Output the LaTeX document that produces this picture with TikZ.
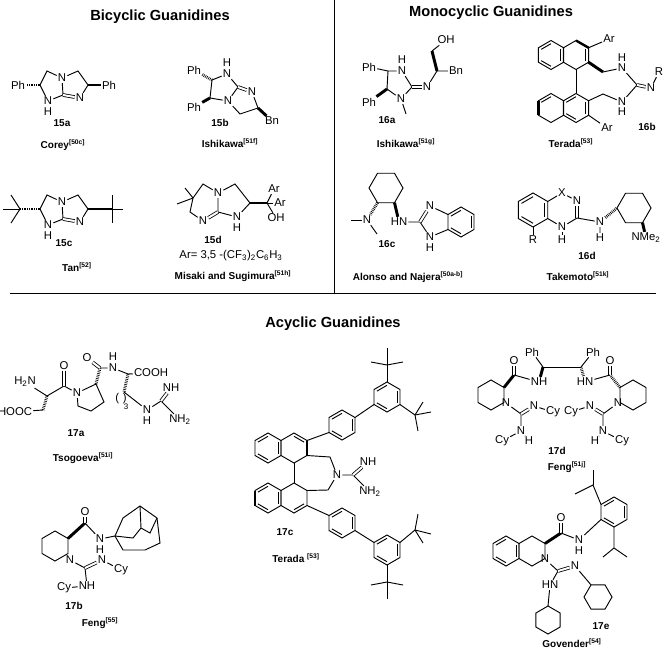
\documentclass[tikz,border=0pt]{standalone}
\usepackage{fontspec}
\setmainfont{Liberation Sans}
\usetikzlibrary{calc}
\tikzset{
  atom/.style={font=\fontsize{8.5}{9}\selectfont, inner sep=0.6pt},
  cpd/.style={font=\fontsize{7.5}{8}\selectfont\bfseries},
  title/.style={font=\fontsize{11}{12}\selectfont\bfseries},
  wedge/.style={line width=2.2pt},
  hash/.style={line width=2.2pt, dash pattern=on 0.5pt off 0.8pt},
  dbl/.style={double, double distance=1.5pt, line width=0.6pt}
}
% hexagon: name, x, y, radius, first angle
\newcommand{\hexring}[5]{%
  \coordinate (#1-c) at (#2,#3);
  \foreach \k in {1,...,6}{\coordinate (#1-\k) at ($(#2,#3)+(#5+60*\k:#4)$);}
  \draw (#1-1)--(#1-2)--(#1-3)--(#1-4)--(#1-5)--(#1-6)--cycle;}
\newcommand{\arom}[1]{%
  \foreach \a/\b in {1/2,3/4,5/6}{\draw ($(#1-c)!0.78!(#1-\a)$) -- ($(#1-c)!0.78!(#1-\b)$);}}
\newcommand{\citeref}[2]{#1\textsuperscript{\fontsize{5}{5}\selectfont[#2]}}
\begin{document}
\begin{tikzpicture}[x=0.75pt, y=-0.75pt, line width=0.7pt]
\useasboundingbox (0,0) rectangle (666,649);
% frame lines
\coordinate (v1) at (334,0);
\coordinate (v2) at (334,293);
\coordinate (h1) at (10,293);
\coordinate (h2) at (656,293);
\draw (v1) -- (v2);
\draw (h1) -- (h2);
\node[title] (tBi) at (160,17) {Bicyclic Guanidines};
\node[title] (tMo) at (491,13) {Monocyclic Guanidines};
\node[title] (tAc) at (333,324) {Acyclic Guanidines};

% 15a
\coordinate (a1) at (40,85); \coordinate (a2) at (47,71);
\node[atom] (aN1) at (62,78) {N};
\coordinate (a3) at (63,95);
\node[atom] (aN3) at (48,101) {N}; \node[atom] (aH) at (48,112) {H};
\coordinate (a4) at (78,71); \coordinate (a5) at (88,85);
\node[atom] (aN2) at (80,98) {N};
\node[atom] (aPh1) at (18,85) {Ph}; \node[atom] (aPh2) at (109,85) {Ph};
\draw (a1)--(a2)--(aN1)--(a3)--(aN3)--(a1);
\draw (aN1)--(a4)--(a5)--(aN2);
\draw[dbl] (a3)--(aN2);
\draw[hash] (a1)--(aPh1); \draw[wedge] (a5)--(aPh2);
\node[cpd] (l15a) at (62,123) {15a};
\node[cpd] (r15a) at (63,145) {\citeref{Corey}{50c}};

% 15b
\node[atom] (bPh1) at (194,70) {Ph}; \node[atom] (bPh2) at (194,107) {Ph};
\coordinate (b1) at (212,80); \coordinate (b2) at (210,98);
\node[atom] (bN1) at (227,74) {N}; \node[atom] (bH) at (227,63) {H};
\coordinate (b3) at (238,87);
\node[atom] (bN2) at (228,101) {N};
\node[atom] (bN3) at (252,92) {N};
\coordinate (b4) at (240,114); \coordinate (b5) at (258,108);
\node[atom] (bBn) at (272,121) {Bn};
\draw (b1)--(bN1)--(b3)--(bN2)--(b2)--(b1);
\draw (bN2)--(b4)--(b5)--(bN3);
\draw[dbl] (b3)--(bN3);
\draw[hash] (b1)--(bPh1); \draw[wedge] (b2)--(bPh2); \draw[wedge] (b5)--(bBn);
\node[cpd] (l15b) at (220,123) {15b};
\node[cpd] (r15b) at (230,143) {\citeref{Ishikawa}{51f}};

% 15c
\coordinate (c1) at (40,209); \coordinate (c2) at (47,195);
\node[atom] (cN1) at (62,202) {N};
\coordinate (c3) at (63,219);
\node[atom] (cN3) at (48,225) {N}; \node[atom] (cH) at (48,236) {H};
\coordinate (c4) at (78,195); \coordinate (c5) at (88,209);
\node[atom] (cN2) at (80,222) {N};
\draw (c1)--(c2)--(cN1)--(c3)--(cN3)--(c1);
\draw (cN1)--(c4)--(c5)--(cN2);
\draw[dbl] (c3)--(cN2);
\coordinate (ct1) at (20,209); \coordinate (ct2) at (112,209);
\draw[hash] (c1)--(ct1); \draw[wedge] (c5)--(ct2);
\foreach \p in {(3,209),(11,195),(11,223)} \draw (ct1)--\p;
\foreach \p in {(123,209),(112,195),(112,223)} \draw (ct2)--\p;
\node[cpd] (l15c) at (64,243) {15c};
\node[cpd] (r15c) at (77,267) {\citeref{Tan}{52}};

% 15d
\coordinate (d1) at (193,198); \coordinate (d2) at (203,184);
\node[atom] (dN1) at (218,193) {N};
\coordinate (d3) at (218,212);
\node[atom] (dN2) at (203,221) {N};
\coordinate (d4) at (190,212);
\coordinate (d5) at (235,184); \coordinate (d6) at (250,203);
\node[atom] (dN3) at (237,217) {N}; \node[atom] (dH) at (237,228) {H};
\coordinate (d7) at (267,203);
\node[atom] (dAr1) at (274,189) {Ar}; \node[atom] (dAr2) at (280,203) {Ar};
\node[atom] (dOH) at (276,218) {OH};
\draw (d1)--(d2)--(dN1)--(d3); \draw[dbl] (d3)--(dN2); \draw (dN2)--(d4)--(d1);
\draw (dN1)--(d5)--(d6)--(dN3)--(d3);
\draw (d1)--(177,204); \draw (d1)--(185,188);
\draw[wedge] (d6)--(d7); \draw (d7)--(dAr1); \draw (d7)--(dAr2); \draw (d7)--(dOH);
\node[cpd] (l15d) at (213,240) {15d};
\node[atom] (dAr) at (231,256) {Ar= 3,5 -(CF\textsubscript{3})\textsubscript{2}C\textsubscript{6}H\textsubscript{3}};
\node[cpd] (r15d) at (233,276) {\citeref{Misaki and Sugimura}{51h}};

% 16a
\node[atom] (ePh1) at (369,67) {Ph}; \node[atom] (ePh2) at (369,102) {Ph};
\coordinate (e1) at (388,71); \coordinate (e2) at (387,89);
\node[atom] (eN1) at (402,71) {N}; \node[atom] (eH) at (402,60) {H};
\coordinate (e3) at (412,87);
\node[atom] (eN2) at (401,99) {N};
\coordinate (eMe) at (406,114);
\node[atom] (eN3) at (427,87) {N};
\coordinate (e4) at (437,71); \coordinate (e5) at (432,51);
\node[atom] (eOH) at (446,40) {OH}; \node[atom] (eBn) at (456,71) {Bn};
\draw (e1)--(eN1)--(e3)--(eN2)--(e2)--(e1);
\draw (eN2)--(eMe);
\draw[dbl] (e3)--(eN3); \draw (eN3)--(e4)--(eBn); \draw (e5)--(eOH);
\draw[wedge] (e4)--(e5);
\draw (e1)--(ePh1); \draw[wedge] (e2)--(ePh2);
\node[cpd] (l16a) at (387,120) {16a};
\node[cpd] (r16a) at (406,143) {\citeref{Ishikawa}{51g}};

% 16b
\hexring{fA}{551}{55}{14.5}{30} \arom{fA}
\hexring{fB}{576}{55}{14.5}{30}
\hexring{fC}{551}{108}{14.5}{30}
\hexring{fD}{576}{108}{14.5}{30} \arom{fD}
\draw[line width=1.8pt] (fC-2)--(fC-3);
\draw[line width=1.8pt] (fB-4)--(fB-5);
\draw ($(fB-c)!0.78!(fB-5)$)--($(fB-c)!0.78!(fB-6)$);
\draw ($(fC-c)!0.78!(fC-3)$)--($(fC-c)!0.78!(fC-4)$);
\draw (fB-1)--(fD-4);
\node[atom] (fAr1) at (609,39) {Ar}; \node[atom] (fAr2) at (607,128) {Ar};
\draw (fB-5)--(fAr1); \draw (fD-6)--(fAr2);
\coordinate (f1) at (603,72); \coordinate (f2) at (603,94);
\node[atom] (fN1) at (622,68) {N}; \node[atom] (fH1) at (622,58) {H};
\node[atom] (fN2) at (622,102) {N}; \node[atom] (fH2) at (622,112) {H};
\coordinate (f3) at (637,85);
\node[atom] (fN3) at (651,88) {N}; \node[atom] (fR) at (659,72) {R};
\draw[wedge] (fB-6)--(f1); \draw (f1)--(fN1)--(f3)--(fN2)--(f2)--(fD-5);
\draw[dbl] (f3)--(fN3); \draw (fN3)--(fR);
\node[cpd] (l16b) at (647,127) {16b};
\node[cpd] (r16b) at (571,143) {\citeref{Terada}{53}};

% 16c
\hexring{gA}{386}{188}{17}{0}
\node[atom] (gN1) at (367,220) {N};
\draw[hash] (gA-2)--(gN1);
\draw (gN1)--(351,220); \draw (gN1)--(377,234);
\node[atom] (gN2) at (399,222) {HN};
\draw[wedge] (gA-1)--(gN2);
\coordinate (g1) at (420,222);
\node[atom] (gN3) at (430,206) {N};
\node[atom] (gN4) at (430,237) {N}; \node[atom] (gH) at (430,248) {H};
\hexring{gB}{461}{222}{15}{30} \arom{gB}
\draw (gN2)--(g1)--(gN4)--(gB-2); \draw[dbl] (g1)--(gN3); \draw (gN3)--(gB-3);
\node[cpd] (l16c) at (387,244) {16c};
\node[cpd] (r16c) at (408,277) {\citeref{Alonso and Najera}{50a-b}};

% 16d
\hexring{hA}{533}{210}{17}{30} \arom{hA}
\node[atom] (hX) at (562,193) {X};
\node[atom] (hN1) at (577,201) {N};
\coordinate (h1) at (577,218);
\node[atom] (hN2) at (562,227) {N}; \node[atom] (hH1) at (562,240) {H};
\draw (hA-5)--(hX)--(hN1); \draw[dbl] (hN1)--(h1); \draw (h1)--(hN2)--(hA-6);
\draw (hN2)--(hH1);
\node[atom] (hR) at (533,240) {R};
\draw (hA-1)--(hR);
\node[atom] (hN3) at (600,222) {N}; \node[atom] (hH2) at (600,238) {H};
\draw (h1)--(hN3)--(hH2);
\hexring{hB}{634}{208}{17}{0}
\draw[hash] (hN3)--(hB-3);
\node[atom] (hNMe) at (646,238) {NMe\textsubscript{2}};
\draw[wedge] (hB-1)--(hNMe);
\node[cpd] (l16d) at (587,256) {16d};
\node[cpd] (r16d) at (578,276) {\citeref{Takemoto}{51k}};

% 17a
\node[atom] (iNH2) at (25,382) {H\textsubscript{2}N};
\coordinate (i1) at (47,396); \coordinate (i2) at (43,410);
\node[atom] (iHOOC) at (15,412) {HOOC};
\coordinate (i3) at (64,386); \node[atom] (iO1) at (64,366) {O};
\node[atom] (iN1) at (77,393) {N};
\coordinate (i4) at (96,384); \coordinate (i5) at (104,402);
\coordinate (i6) at (91,411); \coordinate (i7) at (78,406);
\coordinate (i8) at (100,368); \node[atom] (iO2) at (87,358) {O};
\node[atom] (iN2) at (113,368) {N}; \node[atom] (iH1) at (113,357) {H};
\coordinate (i9) at (128,374);
\node[atom] (iCOOH) at (151,373) {COOH};
\coordinate (i10) at (124,392);
\node[atom] (iN3) at (147,410) {N}; \node[atom] (iH2) at (147,421) {H};
\coordinate (i11) at (161,401);
\node[atom] (iNH) at (171,388) {NH}; \node[atom] (iNH3) at (180,420) {NH\textsubscript{2}};
\draw (iNH2)--(i1); \draw[hash] (i1)--(i2); \draw (i2)--(iHOOC);
\draw (i1)--(i3)--(iN1); \draw[dbl] (i3)--(iO1);
\draw (iN1)--(i4)--(i5)--(i6)--(i7)--(iN1);
\draw[hash] (i4)--(i8); \draw[dbl] (i8)--(iO2); \draw (i8)--(iN2)--(i9)--(iCOOH);
\draw[hash] (i9)--(i10);
\node[atom] (iBr) at (121,399) {(\,\,)}; \node[font=\fontsize{6}{6}\selectfont] (i3s) at (126,407) {3};
\draw (i10)--(iN3); \draw (iN3)--(i11)--(iNH3); \draw[dbl] (i11)--(iNH);
\node[cpd] (l17a) at (76,433) {17a};
\node[cpd] (r17a) at (83,458) {\citeref{Tsogoeva}{51i}};

% 17b
\hexring{jA}{55}{546}{15}{30}
\node[atom] (jN1) at (70,560) {N};
\coordinate (j1) at (85,523); \node[atom] (jO) at (85,512) {O};
\node[atom] (jN2) at (100,539) {N}; \node[atom] (jH) at (100,550) {H};
\draw[wedge] (jA-5)--(j1); \draw[dbl] (j1)--(jO); \draw (j1)--(jN2);
\coordinate (jq) at (115,536);
\draw (jN2)--(jq);
\draw (jq)--(123,518)--(140,506)--(157,518)--(160,543)--(145,550)--(123,550)--(jq);
\draw (140,506)--(141,528)--(133,538)--(jq); \draw (141,528)--(150,533)--(157,518);
\coordinate (j2) at (85,568);
\node[atom] (jN3) at (102,560) {N}; \node[atom] (jCy1) at (121,570) {Cy};
\node[atom] (jN4) at (87,586) {NH}; \node[atom] (jCy2) at (64,588) {Cy};
\draw (jN1)--(j2)--(jN4)--(jCy2); \draw[dbl] (j2)--(jN3); \draw (jN3)--(jCy1);
\node[cpd] (l17b) at (74,606) {17b};
\node[cpd] (r17b) at (100,623) {\citeref{Feng}{55}};

% 17c
\hexring{kA}{268}{448}{15}{30} \arom{kA}
\hexring{kB}{294}{448}{15}{30}
\hexring{kC}{268}{498}{15}{30} \arom{kC}
\hexring{kD}{294}{498}{15}{30}
\draw[line width=1.8pt] (kB-5)--(kB-6); \draw[line width=1.8pt] (kC-2)--(kC-3);
\draw ($(kB-c)!0.78!(kB-4)$)--($(kB-c)!0.78!(kB-5)$);
\draw ($(kD-c)!0.78!(kD-6)$)--($(kD-c)!0.78!(kD-1)$);
\draw (kB-1)--(kD-4);
\coordinate (k1) at (330,457); \coordinate (k2) at (328,490);
\node[atom] (kN1) at (337,475) {N};
\coordinate (k3) at (353,475);
\node[atom] (kN2) at (368,462) {NH}; \node[atom] (kN3) at (370,492) {NH\textsubscript{2}};
\draw (kB-6)--(k1)--(kN1)--(k2)--(kD-5);
\draw (kN1)--(k3)--(kN3); \draw[dbl] (k3)--(kN2);
\hexring{kE}{342}{425}{15}{30} \arom{kE}
\hexring{kF}{387}{397}{15}{30} \arom{kF}
\hexring{kG}{342}{523}{15}{30} \arom{kG}
\hexring{kH}{387}{550}{15}{30} \arom{kH}
\draw (kB-5)--(kE-2); \draw (kE-5)--(kF-2);
\draw (kD-6)--(kG-3); \draw (kG-6)--(kH-3);
\coordinate (kt1) at (387,365); \coordinate (kt2) at (415,415);
\coordinate (kt3) at (415,530); \coordinate (kt4) at (387,582);
\draw (kF-4)--(kt1); \draw (kF-6)--(kt2); \draw (kH-5)--(kt3); \draw (kH-1)--(kt4);
\foreach \p in {(371,362),(403,362),(387,348)} \draw (kt1)--\p;
\foreach \p in {(431,412),(418,431),(423,402)} \draw (kt2)--\p;
\foreach \p in {(431,534),(418,514),(423,543)} \draw (kt3)--\p;
\foreach \p in {(371,585),(403,585),(387,599)} \draw (kt4)--\p;
\node[cpd] (l17c) at (285,532) {17c};
\node[cpd] (r17c) at (296,558) {\citeref{Terada }{53}};

% 17d
\hexring{mA}{491}{395}{15}{30}
\hexring{mB}{633}{395}{15}{30}
\coordinate (m1) at (514,375); \node[atom] (mO1) at (514,361) {O};
\coordinate (m2) at (610,375); \node[atom] (mO2) at (610,361) {O};
\node[atom] (mN1) at (539,382) {NH}; \node[atom] (mN2) at (585,382) {HN};
\coordinate (m3) at (543,367); \coordinate (m4) at (581,367);
\node[atom] (mPh1) at (532,352) {Ph}; \node[atom] (mPh2) at (593,352) {Ph};
\draw[wedge] (mA-5)--(m1); \draw[dbl] (m1)--(mO1); \draw (m1)--(mN1);
\draw[hash] (mB-3)--(m2); \draw[dbl] (m2)--(mO2); \draw (m2)--(mN2);
\draw[wedge] (mN1)--(m3); \draw[hash] (m4)--(mN2);
\draw (m3)--(m4); \draw (m3)--(mPh1); \draw (m4)--(mPh2);
\node[atom] (mN3) at (506,403) {N}; \node[atom] (mN4) at (618,403) {N};
\coordinate (m5) at (521,414); \coordinate (m6) at (603,414);
\node[atom] (mN5) at (534,406) {N}; \node[atom] (mCy1) at (553,412) {Cy};
\node[atom] (mN6) at (590,406) {N}; \node[atom] (mCy2) at (571,412) {Cy};
\node[atom] (mN7) at (521,431) {N}; \node[atom] (mH1) at (529,441) {H}; \node[atom] (mCy3) at (502,441) {Cy};
\node[atom] (mN8) at (603,431) {N}; \node[atom] (mH2) at (595,441) {H}; \node[atom] (mCy4) at (622,441) {Cy};
\draw (mN3)--(m5)--(mN7); \draw[dbl] (m5)--(mN5); \draw (mN5)--(mCy1);
\draw (mN7)--(mH1); \draw (mN7)--(mCy3);
\draw (mN4)--(m6)--(mN8); \draw[dbl] (m6)--(mN6); \draw (mN6)--(mCy2);
\draw (mN8)--(mH2); \draw (mN8)--(mCy4);
\node[cpd] (l17d) at (557,451) {17d};
\node[cpd] (r17d) at (567,467) {\citeref{Feng}{51j}};

% 17e
\hexring{nA}{506}{551}{15}{30} \arom{nA}
\hexring{nB}{532}{551}{15}{30}
\node[atom] (nN1) at (545,559) {N};
\coordinate (n1) at (561,533); \node[atom] (nO) at (561,518) {O};
\node[atom] (nN2) at (579,540) {N}; \node[atom] (nH) at (579,551) {H};
\draw[wedge] (nB-5)--(n1); \draw[dbl] (n1)--(nO); \draw (n1)--(nN2);
\hexring{nC}{614}{512}{15}{30} \arom{nC}
\draw (nN2)--(nC-2);
\coordinate (n2) at (593,485); \coordinate (n3) at (614,548);
\draw (nC-3)--(n2)--(575,494); \draw (n2)--(593,470);
\draw (nC-1)--(n3)--(603,557); \draw (n3)--(627,557);
\coordinate (n4) at (558,571);
\node[atom] (nN3) at (575,566) {N}; \node[atom] (nN4) at (550,585) {HN};
\draw (nN1)--(n4)--(nN4); \draw[dbl] (n4)--(nN3);
\hexring{nD}{598}{597}{14}{0}
\hexring{nE}{548}{620}{14}{30}
\draw (nN3)--(nD-4); \draw (nN4)--(nE-4);
\node[cpd] (l17e) at (601,626) {17e};
\node[cpd] (r17e) at (572,643) {\citeref{Govender}{54}};
\end{tikzpicture}
\end{document}
